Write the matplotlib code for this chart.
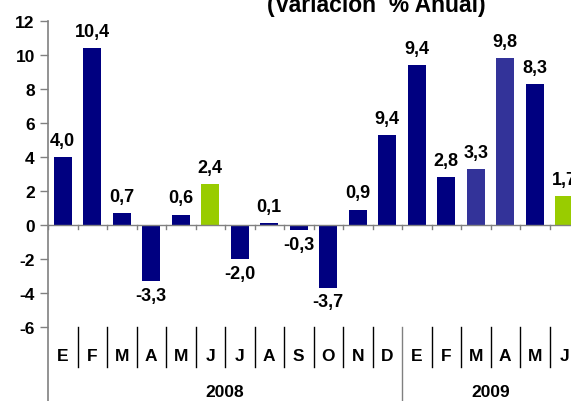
import matplotlib
matplotlib.use("Agg")
import matplotlib.pyplot as plt
from matplotlib.transforms import blended_transform_factory

plt.rcParams['font.family'] = ['Liberation Sans', 'DejaVu Sans']
plt.rcParams['font.weight'] = 'bold'

months = ['E', 'F', 'M', 'A', 'M', 'J', 'J', 'A', 'S', 'O', 'N', 'D',
          'E', 'F', 'M', 'A', 'M', 'J']
years = ['2008', '2009']
year_counts = [12, 6]
values = [4.0, 10.4, 0.7, -3.3, 0.6, 2.4, -2.0, 0.1, -0.3, -3.7, 0.9, 5.3,
          9.4, 2.8, 3.3, 9.8, 8.3, 1.7]
labels = ['4,0', '10,4', '0,7', '-3,3', '0,6', '2,4', '-2,0', '0,1', '-0,3',
          '-3,7', '0,9', '9,4', '9,4', '2,8', '3,3', '9,8', '8,3', '1,7']
colors = ['#000080'] * 5 + ['#99CC00'] + ['#000080'] * 8 + \
         ['#333399', '#333399', '#000080', '#99CC00']
title = '(Variación  % Anual)'
yticks = [12, 10, 8, 6, 4, 2, 0, -2, -4, -6]

W, H = 571, 402
fig = plt.figure(figsize=(W / 100, H / 100), dpi=100)
ax = fig.add_axes([48 / W, (H - 328) / H, 531 / W, 306 / H])

x = list(range(len(values)))
ax.bar(x, values, width=0.61, color=colors, zorder=2)
ax.set_xlim(-0.5, len(values) - 0.5)
ax.set_ylim(-6, 12)

for s in ['top', 'right', 'bottom', 'left']:
    ax.spines[s].set_visible(False)

ax.set_yticks(yticks)
ax.set_yticklabels([str(t) for t in yticks], fontsize=12.5, fontweight='bold')
ax.tick_params(axis='y', length=5.5, width=1, color='#808080', pad=4)
ax.set_xticks([])

# zero line with small ticks
ax.axhline(0, color='#808080', lw=1, zorder=3)
trans = blended_transform_factory(ax.transData, ax.transAxes)
for k in range(len(values) + 1):
    ax.plot([k - 0.5, k - 0.5], [0, -4 / 17], color='#808080', lw=1, zorder=3)

# value labels
for xi, v, lab in zip(x, values, labels):
    if v >= 0:
        ax.annotate(lab, (xi, v), xytext=(0, 6), textcoords='offset points',
                    ha='center', va='bottom', fontsize=13, fontweight='bold')
    else:
        ax.annotate(lab, (xi, v), xytext=(0, -4), textcoords='offset points',
                    ha='center', va='top', fontsize=13, fontweight='bold')

# left axis line extending to bottom
ax.plot([-0.5, -0.5], [1, -74 / 306], transform=trans, color='#808080',
        lw=1.2, clip_on=False, zorder=3)

# table below
sep_bottom = -40 / 306
year_bottom = -74 / 306
boundaries = set()
acc = 0
for c in year_counts:
    acc += c
    boundaries.add(acc)
for k in range(1, len(months)):
    bottom = year_bottom if k in boundaries else sep_bottom
    col = '#808080' if k in boundaries else '#000000'
    ax.plot([k - 0.5, k - 0.5], [0, bottom], transform=trans, color=col,
            lw=1, clip_on=False)
for xi, m in enumerate(months):
    ax.text(xi, -29 / 306, m, transform=trans, ha='center', va='center',
            fontsize=12.5, fontweight='bold')
start = 0
for yr, c in zip(years, year_counts):
    ax.text(start + c / 2 - 0.5, -65 / 306, yr, transform=trans, ha='center',
            va='center', fontsize=12.5, fontweight='bold')
    start += c

fig.text(376 / W, 1 - 12 / H, title, ha='center', va='baseline',
         fontsize=16.5, fontweight='bold')

fig.savefig('out.png', dpi=100)
